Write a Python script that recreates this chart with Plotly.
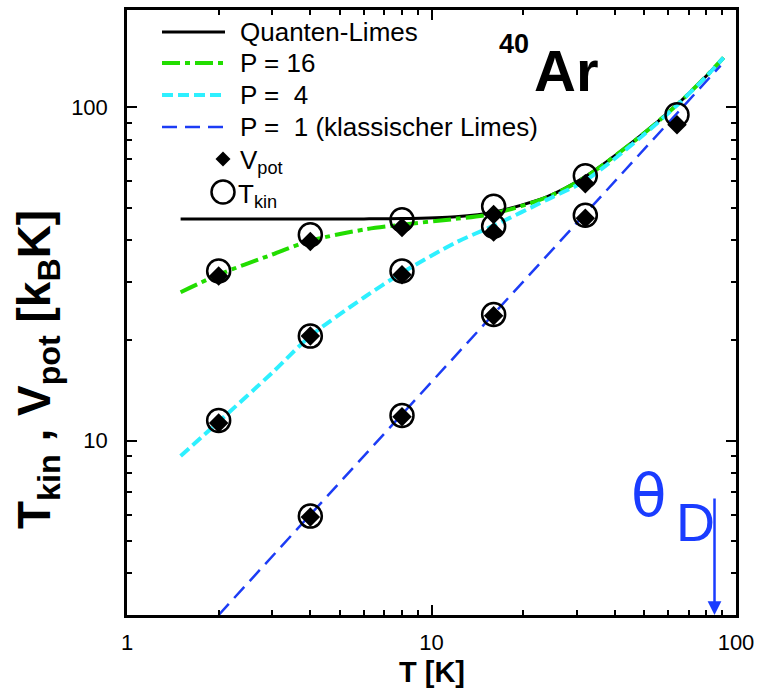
import math
import plotly.graph_objects as go

# ---------------- data ----------------
T_curve = [1.5, 2, 3, 4, 6, 8, 12, 16, 24, 32, 48, 64, 80, 91]
quantum_limit = [46.3, 46.3, 46.3, 46.3, 46.3, 46.4, 47.0, 48.5, 54.0, 62.0, 81.5, 102.0, 124.5, 141.0]
curve_P16 = [27.9, 31.5, 36.2, 39.8, 43.0, 44.5, 46.3, 48.0, 53.8, 61.8, 81.3, 101.8, 124.3, 141.0]
curve_P4 = [9.0, 11.4, 16.0, 20.6, 26.9, 31.9, 39.3, 44.2, 52.9, 60.3, 80.5, 101.5, 124.0, 141.0]
T_classic = [2, 89]
curve_P1 = [3.0, 133.5]

T_sim_P16 = [2, 4, 8, 16, 32, 64]
Tkin_P16 = [32.3, 41.5, 46.0, 50.5, 62.4, 95.0]
Vpot_P16 = [31.2, 39.6, 43.6, 47.7, 59.0, 88.7]

T_sim_P4 = [2, 4, 8, 16]
Tkin_P4 = [11.5, 20.6, 32.3, 44.0]
Vpot_P4 = [11.3, 20.6, 31.5, 42.3]

T_sim_P1 = [4, 8, 16, 32]
Tkin_P1 = [5.94, 11.9, 23.9, 47.5]
Vpot_P1 = [5.9, 11.8, 23.7, 46.5]

theta_D = 85.0

x_ticks = [1, 10, 100]
y_ticks = [10, 100]
x_minor = [2, 3, 4, 5, 6, 7, 8, 9, 20, 30, 40, 50, 60, 70, 80, 90]
y_minor = [4, 5, 6, 7, 8, 9, 20, 30, 40, 50, 60, 70, 80, 90]

legend_labels = ["Quanten-Limes", "P = 16", "P =\u00a0 4", "P =\u00a0 1 (klassischer Limes)"]

# ---------------- style ----------------
FONT = "Liberation Sans, Arial, Helvetica, sans-serif"
BLACK = "#000000"
GREEN = "#22dd00"
CYAN = "#2ef0ff"
BLUE = "#1c3cf5"
THETA_BLUE = "#1a3cff"

W, H = 758, 690
L, R, T, B = 127, 22, 10, 75
PW, PH = W - L - R, H - T - B


def px(x):
    return (x - L) / PW


def py(y):
    return (H - B - y) / PH


line_styles = [
    dict(color=BLACK, width=3, dash="solid"),
    dict(color=GREEN, width=4, dash="18px,5px,5px,5px"),
    dict(color=CYAN, width=4, dash="11px,5px"),
    dict(color=BLUE, width=2.5, dash="15px,8px"),
]

fig = go.Figure()

curves = [(T_curve, quantum_limit), (T_curve, curve_P16), (T_curve, curve_P4), (T_classic, curve_P1)]
for (xs, ys), st, name in zip(curves, line_styles, legend_labels):
    fig.add_trace(go.Scatter(x=xs, y=ys, mode="lines", name=name,
                             line=dict(color=st["color"], width=st["width"], dash=st["dash"],
                                       shape="spline", smoothing=0.8),
                             showlegend=False))

for xs, ys in [(T_sim_P16, Tkin_P16), (T_sim_P4, Tkin_P4), (T_sim_P1, Tkin_P1)]:
    fig.add_trace(go.Scatter(x=xs, y=ys, mode="markers", showlegend=False,
                             marker=dict(symbol="circle-open", size=23, color=BLACK,
                                         line=dict(width=2.5, color=BLACK))))
for xs, ys in [(T_sim_P16, Vpot_P16), (T_sim_P4, Vpot_P4), (T_sim_P1, Vpot_P1)]:
    fig.add_trace(go.Scatter(x=xs, y=ys, mode="markers", showlegend=False,
                             marker=dict(symbol="diamond", size=15, color=BLACK,
                                         line=dict(width=0))))

# ---------------- manual legend ----------------
shapes = []
annotations = []
rows_y = [32, 63, 95, 127]
for yy, st, lab in zip(rows_y, line_styles, legend_labels):
    shapes.append(dict(type="line", xref="paper", yref="paper",
                       x0=px(162), x1=px(225), y0=py(yy), y1=py(yy),
                       line=dict(color=st["color"], width=st["width"], dash=st["dash"])))
    annotations.append(dict(text=lab, xref="paper", yref="paper", x=px(238), y=py(yy),
                            xanchor="left", yanchor="middle", showarrow=False,
                            font=dict(family=FONT, size=26, color=BLACK)))
# diamond key
cx, cy, d = 223, 159, 7.5
shapes.append(dict(type="path", xref="paper", yref="paper",
                   path=f"M {px(cx-d)},{py(cy)} L {px(cx)},{py(cy-d)} L {px(cx+d)},{py(cy)} L {px(cx)},{py(cy+d)} Z",
                   fillcolor=BLACK, line=dict(width=0)))
annotations.append(dict(text="V<sub>pot</sub>", xref="paper", yref="paper", x=px(238), y=py(162),
                        xanchor="left", yanchor="middle", showarrow=False,
                        font=dict(family=FONT, size=26, color=BLACK)))
# circle key
cx, cy, r = 223, 192, 11.5
shapes.append(dict(type="circle", xref="paper", yref="paper",
                   x0=px(cx-r), x1=px(cx+r), y0=py(cy+r), y1=py(cy-r),
                   line=dict(color=BLACK, width=2.5)))
annotations.append(dict(text="T<sub>kin</sub>", xref="paper", yref="paper", x=px(236), y=py(195),
                        xanchor="left", yanchor="middle", showarrow=False,
                        font=dict(family=FONT, size=26, color=BLACK)))

# ---------------- other texts ----------------
annotations.append(dict(text="<b>40</b>", xref="paper", yref="paper", x=px(514), y=py(44),
                        xanchor="center", yanchor="middle", showarrow=False,
                        font=dict(family=FONT, size=27, color=BLACK)))
annotations.append(dict(text="<b>Ar</b>", xref="paper", yref="paper", x=px(566), y=py(70),
                        xanchor="center", yanchor="middle", showarrow=False,
                        font=dict(family=FONT, size=58, color=BLACK)))
annotations.append(dict(text="θ", xref="paper", yref="paper", x=px(649), y=py(496),
                        xanchor="center", yanchor="middle", showarrow=False,
                        font=dict(family="DejaVu Sans, " + FONT, size=58, color=THETA_BLUE)))
annotations.append(dict(text="D", xref="paper", yref="paper", x=px(695), y=py(522),
                        xanchor="center", yanchor="middle", showarrow=False,
                        font=dict(family=FONT, size=54, color=THETA_BLUE)))
annotations.append(dict(text="", xref="x", yref="paper", x=math.log10(theta_D), y=0,
                        showarrow=True, ax=0, ay=-118, axref="pixel", ayref="pixel",
                        arrowhead=2, arrowsize=1.1, arrowwidth=2.5, arrowcolor=THETA_BLUE))
# axis titles
annotations.append(dict(text="<b>T [K]</b>", xref="paper", yref="paper", x=px(432), y=py(689),
                        xanchor="center", yanchor="bottom", showarrow=False, borderpad=0,
                        font=dict(family=FONT, size=29, color=BLACK)))
annotations.append(dict(text="<b>T<sub>kin</sub> , V<sub>pot</sub> [k<sub>B</sub>K]</b>",
                        xref="paper", yref="paper", x=px(37), y=py(369), textangle=-90,
                        xanchor="center", yanchor="middle", showarrow=False,
                        font=dict(family=FONT, size=46, color=BLACK)))

axis_common = dict(type="log", showgrid=False, zeroline=False, showline=True, linewidth=2.5,
                   linecolor=BLACK, mirror="allticks", ticks="inside", ticklen=10, tickwidth=2,
                   tickcolor=BLACK, tickmode="array", automargin=False,
                   tickfont=dict(family=FONT, size=22, color=BLACK))

fig.update_layout(
    width=W, height=H, margin=dict(l=L, r=R, t=T, b=B),
    paper_bgcolor="white", plot_bgcolor="white",
    showlegend=False,
    xaxis=dict(**axis_common, range=[0, 2], tickvals=x_ticks, ticktext=[str(v) for v in x_ticks],
               ticklabelstandoff=6,
               minor=dict(tickmode="array", tickvals=x_minor, ticks="inside", ticklen=5,
                          tickwidth=1.5, tickcolor=BLACK, showgrid=False)),
    yaxis=dict(**axis_common, range=[math.log10(3), math.log10(196)], tickvals=y_ticks,
               ticktext=[str(v) for v in y_ticks], ticklabelstandoff=12,
               minor=dict(tickmode="array", tickvals=y_minor, ticks="inside", ticklen=5,
                          tickwidth=1.5, tickcolor=BLACK, showgrid=False)),
    shapes=shapes,
    annotations=annotations,
)

fig.write_html("out.html")
